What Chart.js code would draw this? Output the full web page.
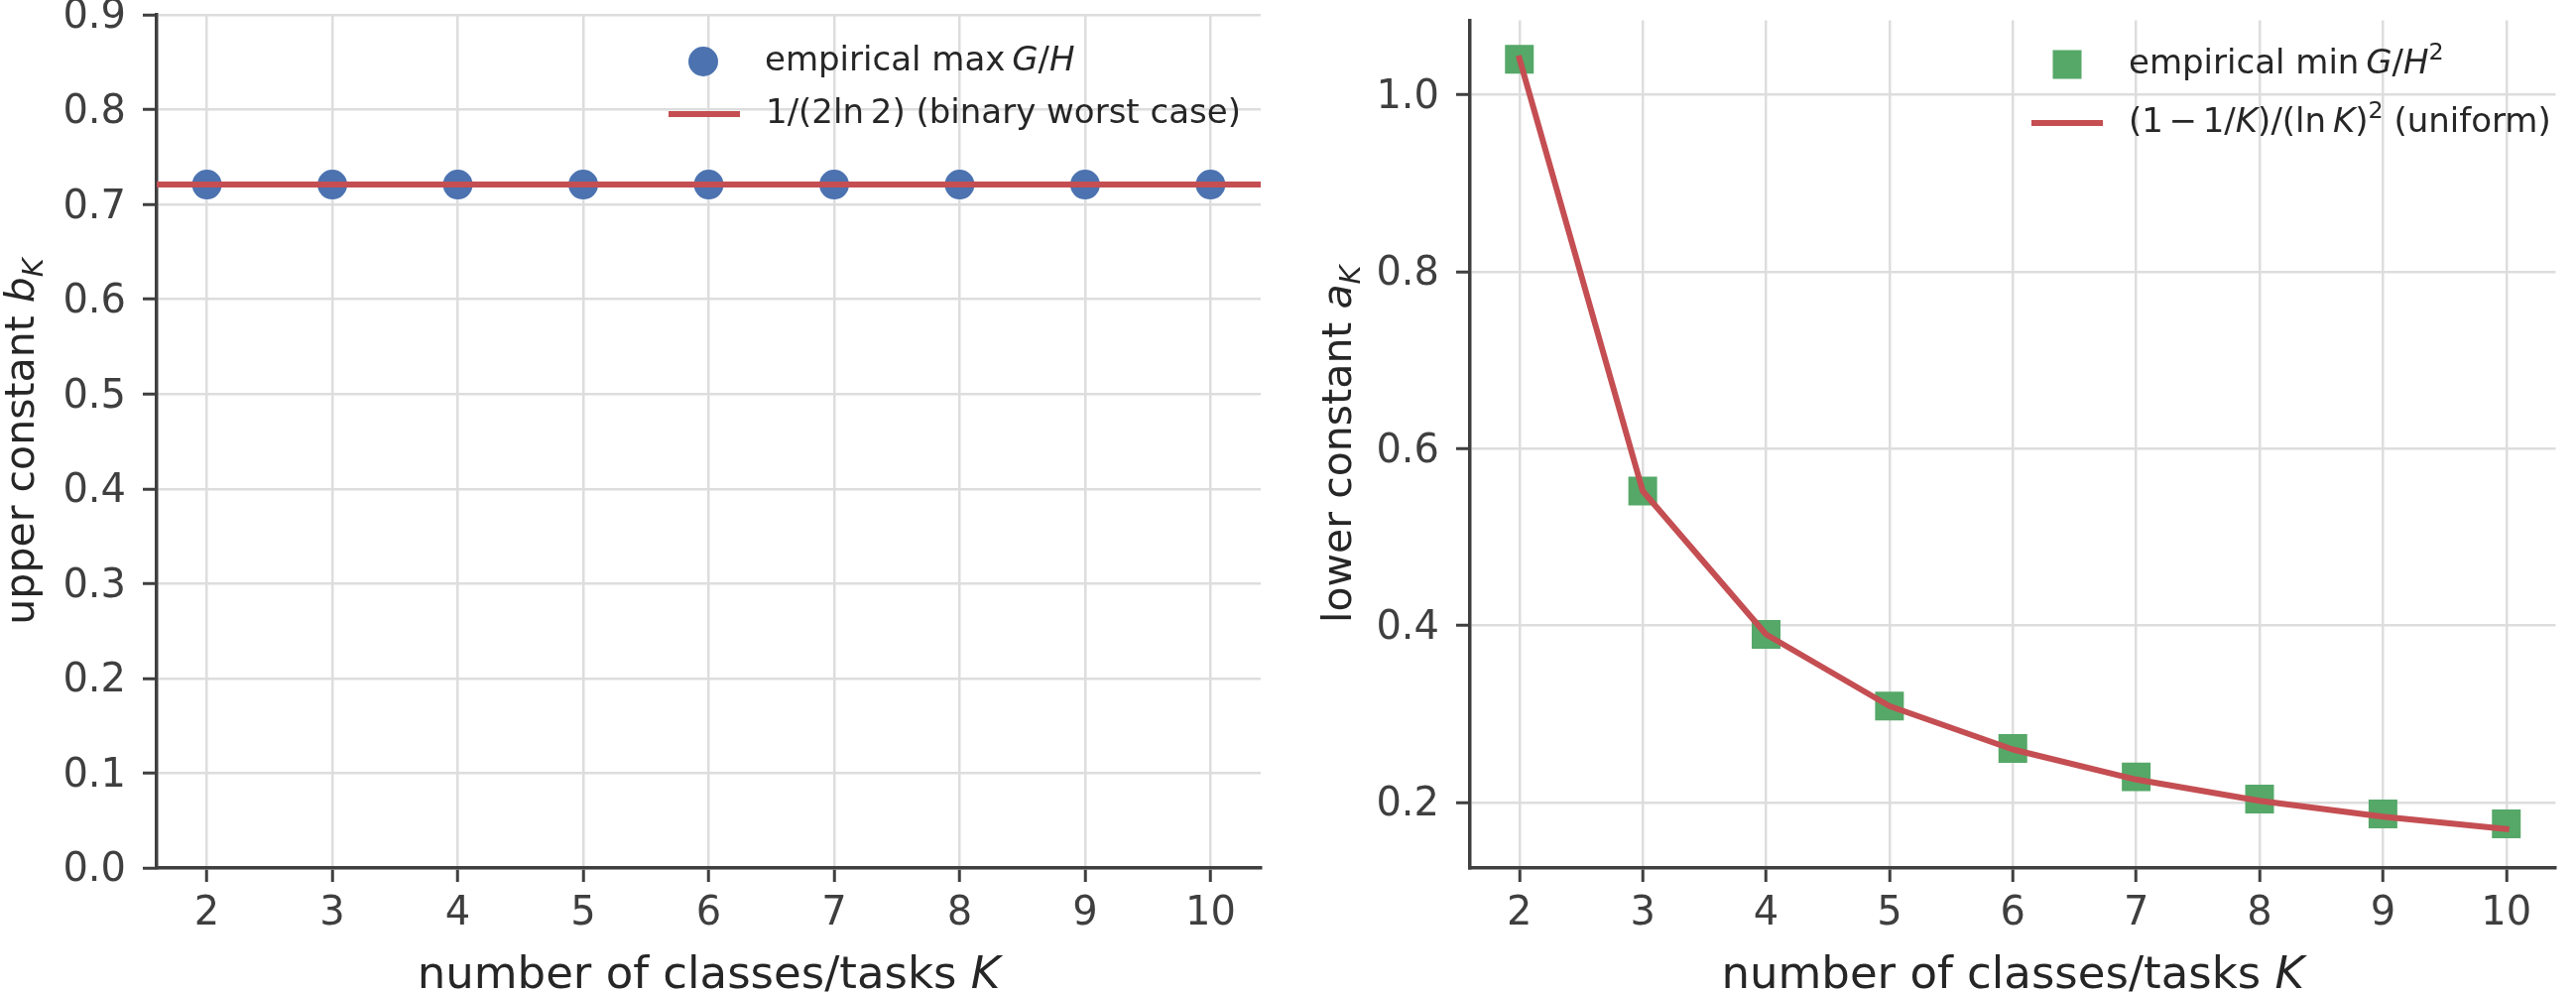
<!DOCTYPE html>
<html lang="en">
<head>
    <meta charset="UTF-8" />
    <title>Upper and lower constants vs number of classes</title>
    <script src="https://cdn.jsdelivr.net/npm/chart.js"></script>
    <style>
        body {
            margin: 0;
            background-color: #ffffff;
        }

        .wrap {
            position: relative;
            width: 2597px;
            height: 1001px;
        }

        .panel {
            position: absolute;
            top: 0;
        }

        #leftPanel { left: 0; }
        #rightPanel { left: 1300px; }
    </style>
</head>
<body>

<div class="wrap">
    <div class="panel" id="leftPanel">
        <canvas id="upperChart" width="1300" height="1001"></canvas>
    </div>
    <div class="panel" id="rightPanel">
        <canvas id="lowerChart" width="1297" height="1001"></canvas>
    </div>
</div>

<script>
    // number of classes / tasks K
    const classes = [2, 3, 4, 5, 6, 7, 8, 9, 10];
    const kTicks = [2, 3, 4, 5, 6, 7, 8, 9, 10];
    const kRange = [1.6, 10.4];

    // left panel: upper constant b_K
    const upperEmpirical = [0.721, 0.721, 0.721, 0.721, 0.721, 0.721, 0.721, 0.721, 0.721];
    const upperBinary = 0.721; // 1/(2 ln 2)
    const upperTicks = [0.0, 0.1, 0.2, 0.3, 0.4, 0.5, 0.6, 0.7, 0.8, 0.9];
    const upperRange = [0, 0.9];

    // right panel: lower constant a_K
    const lowerEmpirical = [1.040, 0.552, 0.390, 0.309, 0.261, 0.229, 0.204, 0.187, 0.176];
    const lowerUniform = [1.041, 0.552, 0.390, 0.309, 0.260, 0.226, 0.202, 0.184, 0.170];
    const lowerTicks = [0.2, 0.4, 0.6, 0.8, 1.0];
    const lowerRange = [0.126, 1.084];

    const BLUE = '#4c72b0';
    const GREEN = '#55a868';
    const RED = '#c44e52';
    const DARK = '#3f3f3f';
    const TEXT = '#262626';
    const FONT = '"DejaVu Sans"';

    // mixed upright / italic labels (mathtext look)
    const xTitle = [{ t: 'number of classes/tasks ' }, { t: 'K', it: true }];
    const upperTitle = [{ t: 'upper constant ' }, { t: 'b', it: true }, { t: 'K', it: true, sub: true }];
    const lowerTitle = [{ t: 'lower constant ' }, { t: 'a', it: true }, { t: 'K', it: true, sub: true }];

    const upperLegend = [
        { kind: 'circle', color: BLUE, cx: 709, cy: 62,
          parts: [{ t: 'empirical max\u2009' }, { t: 'G', it: true }, { t: '/' }, { t: 'H', it: true }] },
        { kind: 'line', color: RED, cx: 710, cy: 115,
          parts: [{ t: '1/(2ln\u20092) (binary worst case)' }] }
    ];
    const lowerLegend = [
        { kind: 'square', color: GREEN, cx: 784, cy: 65,
          parts: [{ t: 'empirical min\u2009' }, { t: 'G', it: true }, { t: '/' }, { t: 'H', it: true }, { t: '2', sup: true }] },
        { kind: 'line', color: RED, cx: 784, cy: 124,
          parts: [{ t: '(1\u2006\u2212\u20061/' }, { t: 'K', it: true }, { t: ')/(ln\u2009' }, { t: 'K', it: true },
                  { t: ')' }, { t: '2', sup: true }, { t: ' (uniform)' }] }
    ];

    function drawRich(ctx, parts, x, y, size, align) {
        let w = 0;
        const laid = parts.map(p => {
            const s = (p.sub || p.sup) ? size * 0.7 : size;
            const font = (p.it ? 'italic ' : '') + s + 'px ' + FONT;
            ctx.font = font;
            const item = { t: p.t, font: font, dx: w, dy: p.sub ? size * 0.22 : (p.sup ? -size * 0.4 : 0) };
            w += ctx.measureText(p.t).width;
            return item;
        });
        const x0 = align === 'center' ? x - w / 2 : x;
        ctx.textAlign = 'left';
        ctx.textBaseline = 'alphabetic';
        laid.forEach(it => {
            ctx.font = it.font;
            ctx.fillText(it.t, x0 + it.dx, y + it.dy);
        });
    }

    const richText = {
        id: 'richText',
        afterDraw(chart, args, opts) {
            const ctx = chart.ctx;
            const a = chart.chartArea;
            ctx.save();
            ctx.fillStyle = TEXT;
            drawRich(ctx, opts.xTitle, (a.left + a.right) / 2, opts.xTitleY, 45, 'center');
            ctx.save();
            ctx.translate(opts.yTitleX, (a.top + a.bottom) / 2);
            ctx.rotate(-Math.PI / 2);
            drawRich(ctx, opts.yTitle, 0, 0, 41, 'center');
            ctx.restore();

            // legend, no frame
            opts.legend.forEach(item => {
                ctx.fillStyle = item.color;
                ctx.strokeStyle = item.color;
                if (item.kind === 'circle') {
                    ctx.beginPath();
                    ctx.arc(item.cx, item.cy, 15, 0, Math.PI * 2);
                    ctx.fill();
                } else if (item.kind === 'square') {
                    ctx.fillRect(item.cx - 14.5, item.cy - 14.5, 29, 29);
                } else {
                    ctx.lineWidth = 6;
                    ctx.beginPath();
                    ctx.moveTo(item.cx - 36, item.cy);
                    ctx.lineTo(item.cx + 36, item.cy);
                    ctx.stroke();
                }
                ctx.fillStyle = TEXT;
                drawRich(ctx, item.parts, item.cx + 62, item.cy + 9, 34, 'left');
            });
            ctx.restore();
        }
    };

    function axes(yRange, yTicks, yWidth, yDigits) {
        const grid = { color: '#dddddd', lineWidth: 2.5, tickColor: DARK, tickLength: 14, tickWidth: 3 };
        const border = { color: DARK, width: 3.5 };
        return {
            x: {
                type: 'linear',
                min: kRange[0],
                max: kRange[1],
                afterBuildTicks: s => { s.ticks = kTicks.map(v => ({ value: v })); },
                afterFit: s => { s.height = 126; s.paddingLeft = 0; s.paddingRight = 0; },
                grid: grid,
                border: border,
                ticks: {
                    font: { family: 'DejaVu Sans', size: 40 },
                    color: DARK,
                    padding: 9,
                    maxRotation: 0,
                    callback: v => String(v)
                }
            },
            y: {
                type: 'linear',
                min: yRange[0],
                max: yRange[1],
                afterBuildTicks: s => { s.ticks = yTicks.map(v => ({ value: v })); },
                afterFit: s => { s.width = yWidth; s.paddingTop = 0; s.paddingBottom = 0; },
                grid: grid,
                border: border,
                ticks: {
                    font: { family: 'DejaVu Sans', size: 40 },
                    color: DARK,
                    padding: 17,
                    labelOffset: 3,
                    callback: v => Number(v).toFixed(yDigits)
                }
            }
        };
    }

    const baseOptions = {
        responsive: false,
        animation: false,
        events: []
    };

    new Chart(document.getElementById('upperChart'), {
        type: 'scatter',
        data: {
            datasets: [
                {
                    label: '1/(2 ln 2) (binary worst case)',
                    data: kRange.map(k => ({ x: k, y: upperBinary })),
                    showLine: true,
                    borderColor: RED,
                    borderWidth: 6,
                    pointRadius: 0,
                    order: 0
                },
                {
                    label: 'empirical max G/H',
                    data: classes.map((k, i) => ({ x: k, y: upperEmpirical[i] })),
                    backgroundColor: BLUE,
                    borderWidth: 0,
                    pointRadius: 15,
                    order: 1
                }
            ]
        },
        options: Object.assign({}, baseOptions, {
            layout: { padding: { top: 13, right: 29, left: 0, bottom: 0 } },
            scales: axes(upperRange, upperTicks, 158, 1),
            plugins: {
                legend: { display: false },
                tooltip: { enabled: false },
                richText: { xTitle: xTitle, xTitleY: 996, yTitle: upperTitle, yTitleX: 34, legend: upperLegend }
            }
        }),
        plugins: [richText]
    });

    new Chart(document.getElementById('lowerChart'), {
        type: 'scatter',
        data: {
            datasets: [
                {
                    label: '(1 - 1/K)/(ln K)^2 (uniform)',
                    data: classes.map((k, i) => ({ x: k, y: lowerUniform[i] })),
                    showLine: true,
                    borderColor: RED,
                    borderWidth: 6,
                    borderCapStyle: 'square',
                    borderJoinStyle: 'round',
                    pointRadius: 0,
                    order: 0
                },
                {
                    label: 'empirical min G/H^2',
                    data: classes.map((k, i) => ({ x: k, y: lowerEmpirical[i] })),
                    backgroundColor: GREEN,
                    borderWidth: 0,
                    pointStyle: 'rect',
                    pointRadius: 20.5,
                    order: 1
                }
            ]
        },
        options: Object.assign({}, baseOptions, {
            layout: { padding: { top: 13, right: 2, left: 0, bottom: 0 } },
            scales: axes(lowerRange, lowerTicks, 182, 1),
            plugins: {
                legend: { display: false },
                tooltip: { enabled: false },
                richText: { xTitle: xTitle, xTitleY: 996, yTitle: lowerTitle, yTitleX: 62, legend: lowerLegend }
            }
        }),
        plugins: [richText]
    });
</script>

</body>
</html>
